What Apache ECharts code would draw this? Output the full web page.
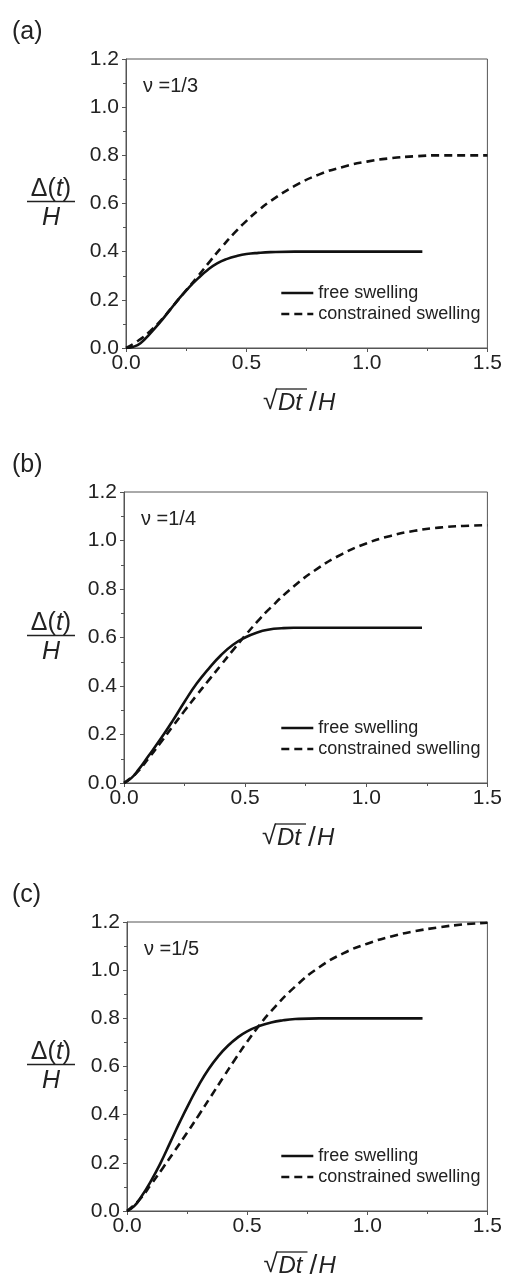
<!DOCTYPE html>
<html>
<head>
<meta charset="utf-8">
<script src="https://cdn.jsdelivr.net/npm/echarts@6/dist/echarts.min.js"></script>
<style>
  html, body { margin: 0; padding: 0; background: #fff; }
  #chart { width: 505px; height: 1279px; }
</style>
</head>
<body>
<div id="chart"></div>
<script>
// data
var xTicks = [0.0, 0.5, 1.0, 1.5];
var yTicks = [0.0, 0.2, 0.4, 0.6, 0.8, 1.0, 1.2];
var seriesNames = ['free swelling', 'constrained swelling'];
var panelTags = ['(a)', '(b)', '(c)'];
var nuLabels = ['\u03bd =1/3', '\u03bd =1/4', '\u03bd =1/5'];

// (a) nu = 1/3
var freeXA = [0, 0.03, 0.06, 0.1, 0.14, 0.18, 0.22, 0.26, 0.3, 0.34, 0.38, 0.42, 0.46, 0.5, 0.55, 0.6, 0.7, 0.8, 1.0, 1.23];
var freeYA = [0, 0.005, 0.02, 0.06, 0.105, 0.155, 0.205, 0.25, 0.29, 0.325, 0.352, 0.37, 0.382, 0.39, 0.395, 0.398, 0.4, 0.4, 0.4, 0.4];
var consXA = [0, 0.05, 0.1, 0.15, 0.2, 0.25, 0.3, 0.35, 0.4, 0.45, 0.5, 0.55, 0.6, 0.7, 0.8, 0.9, 1.0, 1.1, 1.2, 1.3, 1.5];
var consYA = [0, 0.03, 0.07, 0.12, 0.18, 0.24, 0.3, 0.362, 0.422, 0.478, 0.528, 0.572, 0.61, 0.673, 0.72, 0.752, 0.774, 0.788, 0.796, 0.8, 0.8];

// (b) nu = 1/4
var freeXB = [0, 0.03, 0.06, 0.1, 0.15, 0.2, 0.25, 0.3, 0.35, 0.4, 0.45, 0.5, 0.55, 0.6, 0.65, 0.7, 0.8, 1.0, 1.23];
var freeYB = [0, 0.02, 0.055, 0.11, 0.18, 0.255, 0.335, 0.41, 0.472, 0.527, 0.57, 0.6, 0.621, 0.633, 0.638, 0.64, 0.64, 0.64, 0.64];
var consXB = [0, 0.05, 0.1, 0.15, 0.2, 0.25, 0.3, 0.35, 0.4, 0.45, 0.5, 0.55, 0.6, 0.7, 0.8, 0.9, 1.0, 1.1, 1.2, 1.3, 1.4, 1.5];
var consYB = [0, 0.04, 0.1, 0.165, 0.232, 0.298, 0.362, 0.424, 0.486, 0.548, 0.608, 0.665, 0.718, 0.81, 0.885, 0.944, 0.988, 1.019, 1.04, 1.053, 1.06, 1.063];

// (c) nu = 1/5
var freeXC = [0, 0.03, 0.06, 0.1, 0.14, 0.18, 0.22, 0.26, 0.3, 0.34, 0.38, 0.42, 0.46, 0.5, 0.55, 0.6, 0.65, 0.7, 0.8, 1.0, 1.23];
var freeYC = [0, 0.02, 0.06, 0.125, 0.2, 0.285, 0.37, 0.45, 0.525, 0.59, 0.643, 0.686, 0.72, 0.746, 0.768, 0.783, 0.792, 0.797, 0.8, 0.8, 0.8];
var consXC = [0, 0.05, 0.1, 0.15, 0.2, 0.25, 0.3, 0.35, 0.4, 0.45, 0.5, 0.55, 0.6, 0.7, 0.8, 0.9, 1.0, 1.1, 1.2, 1.3, 1.4, 1.5];
var consYC = [0, 0.045, 0.11, 0.18, 0.252, 0.325, 0.4, 0.477, 0.554, 0.63, 0.703, 0.77, 0.83, 0.932, 1.012, 1.07, 1.11, 1.14, 1.162, 1.178, 1.19, 1.197];

var freeX = [freeXA, freeXB, freeXC], freeY = [freeYA, freeYB, freeYC];
var consX = [consXA, consXB, consXC], consY = [consYA, consYB, consYC];

// grid boxes per panel
var boxes = [
  { left: 126, top: 59, width: 362, height: 289 },
  { left: 124, top: 492, width: 364, height: 291 },
  { left: 127, top: 922, width: 361, height: 289 }
];

var axisColor = '#555';
var textColor = '#222';
var fontFam = '"Liberation Sans", Arial, sans-serif';

function zip(xs, ys) {
  var out = [];
  for (var i = 0; i < xs.length; i++) out.push([xs[i], ys[i]]);
  return out;
}

var grids = [], xAxes = [], yAxes = [], series = [], legends = [], graphics = [];

boxes.forEach(function (b, i) {
  grids.push({
    left: b.left, top: b.top, width: b.width, height: b.height,
    show: true, borderColor: axisColor, borderWidth: 1, backgroundColor: 'transparent'
  });
  xAxes.push({
    gridIndex: i, type: 'value', min: xTicks[0], max: xTicks[xTicks.length - 1], interval: 0.5,
    axisLine: { show: true, lineStyle: { color: axisColor, width: 1 } },
    axisTick: { show: true, length: 4, lineStyle: { color: axisColor } },
    minorTick: { show: true, splitNumber: 2, length: 3, lineStyle: { color: axisColor } },
    splitLine: { show: false },
    axisLabel: { fontSize: 21, color: textColor, fontFamily: fontFam, margin: 5,
      formatter: function (v) { return v.toFixed(1); } }
  });
  yAxes.push({
    gridIndex: i, type: 'value', min: yTicks[0], max: yTicks[yTicks.length - 1], interval: 0.2,
    axisLine: { show: true, lineStyle: { color: axisColor, width: 1 } },
    axisTick: { show: true, length: 4, lineStyle: { color: axisColor } },
    minorTick: { show: true, splitNumber: 2, length: 3, lineStyle: { color: axisColor } },
    splitLine: { show: false },
    axisLabel: { fontSize: 21, color: textColor, fontFamily: fontFam, margin: 7,
      formatter: function (v) { return v.toFixed(1); } }
  });
  series.push({
    name: seriesNames[0], type: 'line', xAxisIndex: i, yAxisIndex: i,
    data: zip(freeX[i], freeY[i]), smooth: 0.5, symbol: 'none',
    lineStyle: { color: '#111', width: 2.6, type: 'solid' }, itemStyle: { color: '#111' }
  });
  series.push({
    name: seriesNames[1], type: 'line', xAxisIndex: i, yAxisIndex: i,
    data: zip(consX[i], consY[i]), smooth: 0.5, symbol: 'none',
    lineStyle: { color: '#111', width: 2.6, type: [8, 5] }, itemStyle: { color: '#111' }
  });
  var bottom = b.top + b.height;
  legends.push({
    data: seriesNames, orient: 'vertical',
    left: 280, top: bottom - 64, padding: 0,
    itemWidth: 32, itemHeight: 14, itemGap: 3,
    itemStyle: { opacity: 0 },
    lineStyle: { width: 2.6 },
    textStyle: { fontSize: 18, lineHeight: 18, color: textColor, fontFamily: fontFam },
    selectedMode: false
  });

  var y06 = bottom - b.height * 0.5;
  // panel tag
  graphics.push({ type: 'text', x: 12, y: b.top - 27,
    style: { text: panelTags[i], fontSize: 25, fill: textColor, fontFamily: fontFam, verticalAlign: 'middle' } });
  // nu label
  graphics.push({ type: 'text', x: b.left + 17, y: b.top + 27,
    style: { text: nuLabels[i], fontSize: 20, fill: textColor, fontFamily: fontFam, verticalAlign: 'middle' } });
  // y axis title as a fraction
  graphics.push({ type: 'text', x: 51, y: y06 - 14,
    style: { text: '{n|\u0394(}{i|t}{n|)}', align: 'center', verticalAlign: 'middle',
      rich: {
        n: { fontSize: 25, fill: textColor, fontFamily: fontFam },
        i: { fontSize: 25, fill: textColor, fontFamily: fontFam, fontStyle: 'italic' }
      } } });
  graphics.push({ type: 'line', shape: { x1: 27, y1: y06 - 2, x2: 75, y2: y06 - 2 },
    style: { stroke: textColor, lineWidth: 1.3 } });
  graphics.push({ type: 'text', x: 51, y: y06 + 15,
    style: { text: 'H', fontSize: 25, fontStyle: 'italic', fill: textColor, fontFamily: fontFam,
      align: 'center', verticalAlign: 'middle' } });
  // x axis title: sqrt(Dt)/H
  var cx = b.left + b.width / 2 - 4;
  var ty = bottom + 54;
  graphics.push({ type: 'text', x: cx - 40, y: ty,
    style: { text: '\u221a', fontSize: 26, fill: textColor, fontFamily: fontFam, verticalAlign: 'middle' } });
  graphics.push({ type: 'text', x: cx - 25, y: ty + 1,
    style: { text: 'Dt', fontSize: 24, fontStyle: 'italic', fill: textColor, fontFamily: fontFam, verticalAlign: 'middle' } });
  graphics.push({ type: 'line', shape: { x1: cx - 27, y1: ty - 13, x2: cx + 4, y2: ty - 13 },
    style: { stroke: textColor, lineWidth: 1.3 } });
  graphics.push({ type: 'text', x: cx + 6, y: ty + 1,
    style: { text: '/', fontSize: 28, fill: textColor, fontFamily: fontFam, verticalAlign: 'middle' } });
  graphics.push({ type: 'text', x: cx + 15, y: ty + 1,
    style: { text: 'H', fontSize: 24, fontStyle: 'italic', fill: textColor, fontFamily: fontFam, verticalAlign: 'middle' } });
});

var chart = echarts.init(document.getElementById('chart'), null, { renderer: 'canvas' });
chart.setOption({
  backgroundColor: '#fff',
  animation: false,
  grid: grids,
  xAxis: xAxes,
  yAxis: yAxes,
  legend: legends,
  series: series,
  graphic: graphics
});
</script>
</body>
</html>
